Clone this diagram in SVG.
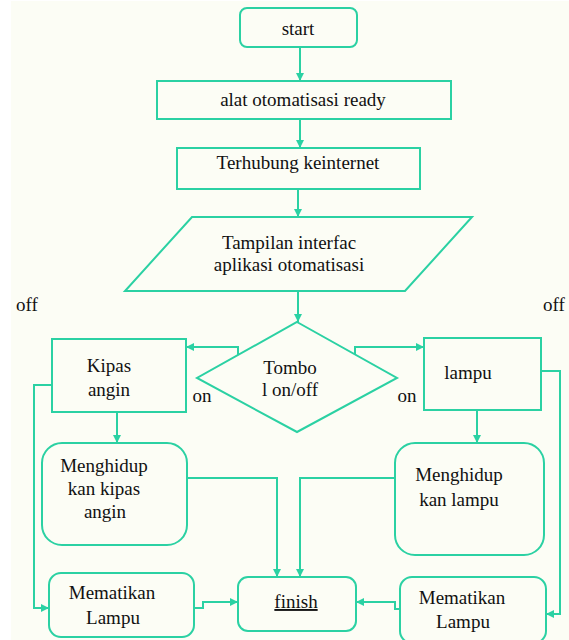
<svg xmlns="http://www.w3.org/2000/svg" width="569" height="640" viewBox="0 0 569 640" font-family="Liberation Serif, DejaVu Serif, serif">
<defs>
<marker id="ah" markerUnits="userSpaceOnUse" markerWidth="9" markerHeight="9" refX="8" refY="4" orient="auto">
<path d="M0,0 L8,4 L0,8 z" fill="#2bd1a3"/>
</marker>
<style>
.n{fill:none;stroke:#2bd1a3;stroke-width:2}
.c{fill:none;stroke:#2bd1a3;stroke-width:2}
.a{marker-end:url(#ah)}
.t{font-family:'Liberation Serif','DejaVu Serif',serif;font-size:19px;fill:#111;text-anchor:middle}
</style>
</defs>
<rect x="0" y="0" width="569" height="640" fill="#ffffff"/>
<rect x="11" y="1" width="558" height="639" fill="#fcfdf5"/>

<g id="connectors">
<path class="c a" d="M300,47 V81"/>
<path class="c a" d="M300,119 V148"/>
<path class="c a" d="M298,189 V217"/>
<path class="c a" d="M298,291 V322"/>
<path class="c a" d="M238,355 V347 H186"/>
<path class="c a" d="M355,355 V347 H424"/>
<path class="c a" d="M52,385 H34 V608 H49"/>
<path class="c a" d="M541,371 H560 V614 H546"/>
<path class="c a" d="M117,412 V443"/>
<path class="c a" d="M477,410 V443"/>
<path class="c a" d="M187,478 H277 V577"/>
<path class="c a" d="M395,478 H300 V577"/>
<path class="c a" d="M194,608 H203 V602 H238"/>
<path class="c a" d="M400,609 H395 V602 H356"/>
</g>

<g class="t">
<g id="start">
<rect class="n" x="240" y="8" width="117" height="39" rx="7"/>
<text x="298" y="35">start</text>
</g>
<g id="alat">
<rect class="n" x="157" y="81" width="294" height="38"/>
<text x="303" y="106">alat otomatisasi ready</text>
</g>
<g id="terhubung">
<rect class="n" x="177" y="148" width="243" height="41"/>
<text x="298" y="169">Terhubung keinternet</text>
</g>
<g id="tampilan">
<polygon class="n" points="192,217 472,217 405,291 125,291"/>
<text x="289" y="249">Tampilan interfac</text>
<text x="289" y="271">aplikasi otomatisasi</text>
</g>
<g id="tombol">
<polygon class="n" points="297,322 397,378 297,432 197,378"/>
<text x="290" y="374">Tombo</text>
<text x="290" y="396">l on/off</text>
</g>
<g id="kipas">
<rect class="n" x="52" y="339" width="134" height="73"/>
<text x="109" y="372">Kipas</text>
<text x="109" y="396">angin</text>
</g>
<g id="lampu">
<rect class="n" x="424" y="338" width="117" height="72"/>
<text x="468" y="379">lampu</text>
</g>
<g id="menghidup-kipas">
<rect class="n" x="42" y="443" width="145" height="102" rx="20"/>
<text x="104" y="472">Menghidup</text>
<text x="104" y="495">kan kipas</text>
<text x="105" y="518">angin</text>
</g>
<g id="menghidup-lampu">
<rect class="n" x="395" y="443" width="149" height="112" rx="20"/>
<text x="459" y="481">Menghidup</text>
<text x="459" y="506">kan lampu</text>
</g>
<g id="mematikan-kiri">
<rect class="n" x="49" y="573" width="145" height="64" rx="12"/>
<text x="112" y="599">Mematikan</text>
<text x="113" y="624">Lampu</text>
</g>
<g id="finish">
<rect class="n" x="238" y="577" width="118" height="54" rx="10"/>
<text x="296" y="608" text-decoration="underline">finish</text>
</g>
<g id="mematikan-kanan">
<rect class="n" x="400" y="577" width="146" height="66" rx="12"/>
<text x="462" y="604">Mematikan</text>
<text x="463" y="628">Lampu</text>
</g>
<g id="labels">
<text x="27" y="311">off</text>
<text x="554" y="311">off</text>
<text x="202" y="402">on</text>
<text x="407" y="402">on</text>
</g>
</g>
</svg>
